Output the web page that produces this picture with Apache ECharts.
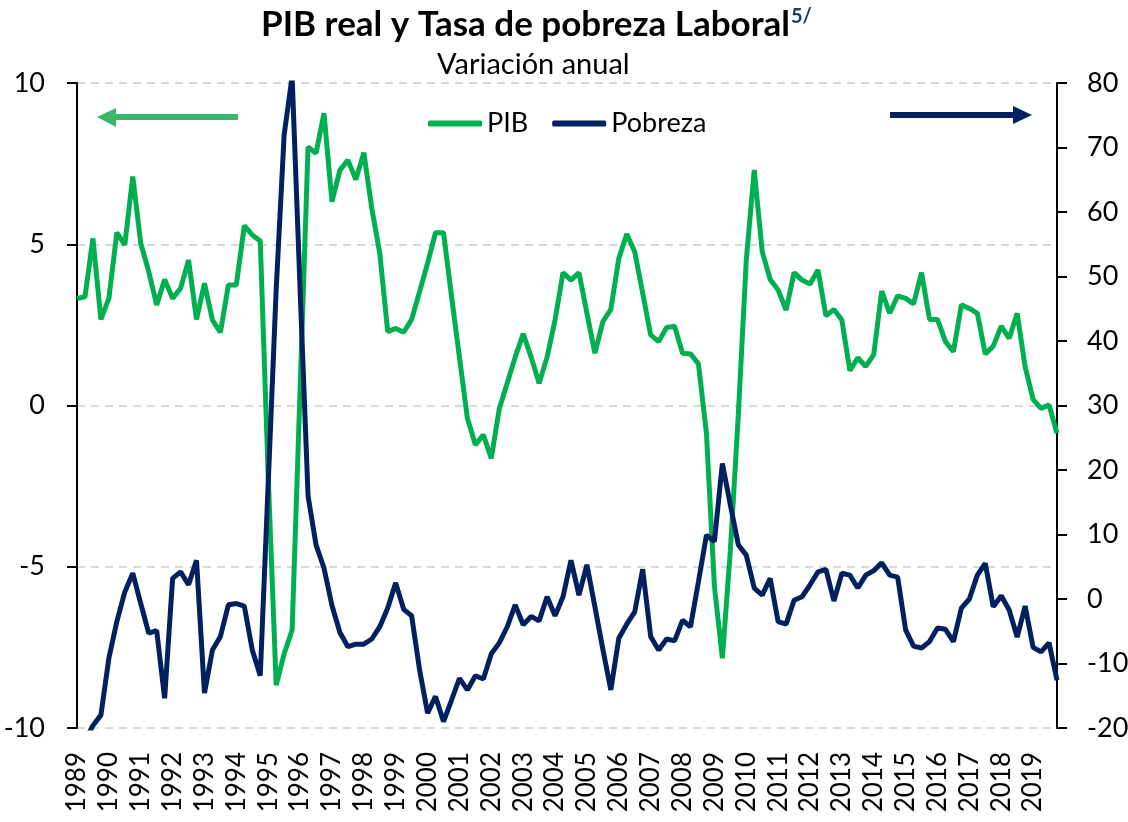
<!DOCTYPE html>
<html>
<head>
<meta charset="utf-8">
<script src="https://cdn.jsdelivr.net/npm/echarts@6/dist/echarts.min.js"></script>
<style>
  html, body { margin: 0; padding: 0; background: #fff; }
  #main { width: 1128px; height: 822px; }
</style>
</head>
<body>
<div id="main"></div>
<script>
// años de la serie trimestral (1989T1 - 2019T4)
var years = [];
for (var y = 1989; y <= 2019; y++) years.push(y);
var quarters = [];
years.forEach(function (yr) {
    ['T1', 'T2', 'T3', 'T4'].forEach(function (q) { quarters.push(yr + q); });
});

// PIB real, variación anual (eje izquierdo)
var pib = [
    3.32, 3.37, 5.18, 2.67, 3.32, 5.36, 4.98, 7.10, 5.03, 4.15,
    3.12, 3.91, 3.32, 3.63, 4.51, 2.67, 3.79, 2.65, 2.27, 3.74,
    3.74, 5.58, 5.29, 5.10, -2.2, -8.67, -7.7, -6.96, 0.5, 8.02,
    7.82, 9.06, 6.32, 7.30, 7.61, 7.01, 7.84, 6.11, 4.72, 2.29,
    2.39, 2.27, 2.67, 3.53, 4.41, 5.36, 5.36, 3.4, 1.5, -0.4,
    -1.22, -0.91, -1.64, -0.1, 0.7, 1.5, 2.22, 1.5, 0.69, 1.5,
    2.65, 4.12, 3.89, 4.12, 2.86, 1.62, 2.6, 2.98, 4.56, 5.32,
    4.77, 3.48, 2.19, 1.98, 2.42, 2.46, 1.62, 1.60, 1.29, -0.86,
    -5.6, -7.84, -4.5, -0.3, 4.5, 7.3, 4.77, 3.91, 3.58, 2.96,
    4.12, 3.89, 3.77, 4.20, 2.78, 2.98, 2.65, 1.08, 1.48, 1.21,
    1.58, 3.55, 2.86, 3.40, 3.32, 3.15, 4.12, 2.67, 2.67, 1.98,
    1.67, 3.12, 3.01, 2.86, 1.60, 1.84, 2.46, 2.08, 2.86, 1.20,
    0.19, -0.09, 0.02, -0.86
];

// Tasa de pobreza laboral, variación anual (eje derecho)
var pobreza = [
    -26, -22, -19.6, -18.0, -9.2, -3.5, 1.1, 4.0, -0.7, -5.3,
    -4.9, -15.4, 3.2, 4.2, 2.2, 6.0, -14.6, -7.9, -5.8, -0.9,
    -0.7, -1.1, -7.9, -11.9, 18, 48, 72, 81, 48, 16,
    8.4, 4.8, -1, -5.2, -7.4, -7.0, -7.0, -6.2, -4.3, -1.4,
    2.5, -1.6, -2.6, -11.0, -17.7, -15.1, -19.0, -15.7, -12.3, -14.1,
    -11.9, -12.4, -8.5, -6.8, -4.3, -0.9, -4.0, -2.7, -3.4, 0.35,
    -2.6, 0.35, 6.0, 0.6, 5.3, -1.2, -7.8, -14.1, -6.1, -3.9,
    -2.0, 4.6, -5.8, -7.9, -6.2, -6.5, -3.3, -4.3, 2.7, 9.9,
    8.9, 21.0, 14.6, 8.4, 6.8, 1.7, 0.6, 3.2, -3.5, -3.9,
    -0.2, 0.35, 2.2, 4.2, 4.6, -0.3, 4.0, 3.7, 1.7, 3.7,
    4.4, 5.6, 3.7, 3.4, -4.8, -7.3, -7.6, -6.6, -4.5, -4.7,
    -6.6, -1.4, 0.0, 3.7, 5.5, -1.2, 0.5, -1.7, -5.9, -1.1,
    -7.5, -8.2, -6.8, -12.6
];

var FONT = 'Lato';
var VERDE = '#00b050';
var AZUL = '#002060';

var myChart = echarts.init(document.getElementById('main'));

myChart.setOption({
    animation: false,
    title: [{
        text: 'PIB real y Tasa de pobreza Laboral{sup|5/}',
        left: 256,
        top: 2,
        textStyle: {
            fontFamily: FONT,
            fontSize: 35,
            fontWeight: 'bold',
            color: '#000',
            rich: {
                sup: {
                    fontFamily: FONT,
                    fontSize: 20,
                    fontWeight: 'bold',
                    color: '#1f3864',
                    verticalAlign: 'top',
                    padding: [0, 0, 16, 1]
                }
            }
        }
    }, {
        text: 'Variación anual',
        left: 432,
        top: 45,
        textStyle: {
            fontFamily: FONT,
            fontSize: 29,
            fontWeight: 'normal',
            color: '#000'
        }
    }],
    legend: {
        data: ['PIB', 'Pobreza'],
        left: 428,
        top: 110,
        padding: 0,
        icon: 'roundRect',
        itemWidth: 54,
        itemHeight: 6,
        itemGap: 24,
        textStyle: { fontFamily: FONT, fontSize: 27, color: '#000' }
    },
    grid: {
        left: 77,
        right: 71,
        top: 83,
        bottom: 94,
        containLabel: false,
        outerBoundsMode: 'none'
    },
    xAxis: {
        type: 'category',
        boundaryGap: false,
        data: quarters,
        axisLine: { show: false },
        axisTick: { show: false },
        axisLabel: {
            interval: 3,
            rotate: 90,
            margin: 24,
            fontFamily: FONT,
            fontSize: 26,
            color: '#000',
            formatter: function (v) { return v.slice(0, 4); }
        }
    },
    yAxis: [{
        type: 'value',
        min: -10,
        max: 10,
        interval: 5,
        position: 'left',
        axisLine: { show: true, lineStyle: { color: '#000', width: 2 } },
        axisTick: { show: true, inside: false, length: 10, lineStyle: { color: '#000', width: 2 } },
        axisLabel: { margin: 32, fontFamily: FONT, fontSize: 27, color: '#000' },
        splitLine: { show: true, lineStyle: { color: '#d9d9d9', width: 2, type: [8, 6] } }
    }, {
        type: 'value',
        min: -20,
        max: 80,
        interval: 10,
        position: 'right',
        axisLine: { show: true, lineStyle: { color: '#000', width: 2 } },
        axisTick: { show: true, inside: false, length: 10, lineStyle: { color: '#000', width: 2 } },
        axisLabel: { margin: 30, fontFamily: FONT, fontSize: 27, color: '#000' },
        splitLine: { show: false }
    }],
    series: [{
        name: 'PIB',
        type: 'line',
        yAxisIndex: 0,
        data: pib,
        symbol: 'none',
        clip: true,
        itemStyle: { color: VERDE },
        lineStyle: { color: VERDE, width: 5 }
    }, {
        name: 'Pobreza',
        type: 'line',
        yAxisIndex: 1,
        data: pobreza,
        symbol: 'none',
        clip: true,
        itemStyle: { color: AZUL },
        lineStyle: { color: AZUL, width: 5 }
    }],
    graphic: [{
        // flecha hacia el eje izquierdo
        type: 'polygon',
        shape: { points: [[238, 114], [116, 114], [116, 108], [97, 117], [116, 127], [116, 120], [238, 120]] },
        style: { fill: '#39b86b' }
    }, {
        // flecha hacia el eje derecho
        type: 'polygon',
        shape: { points: [[890, 112], [1013, 112], [1013, 106], [1032, 115], [1013, 124], [1013, 118], [890, 118]] },
        style: { fill: AZUL }
    }]
});
</script>
</body>
</html>
